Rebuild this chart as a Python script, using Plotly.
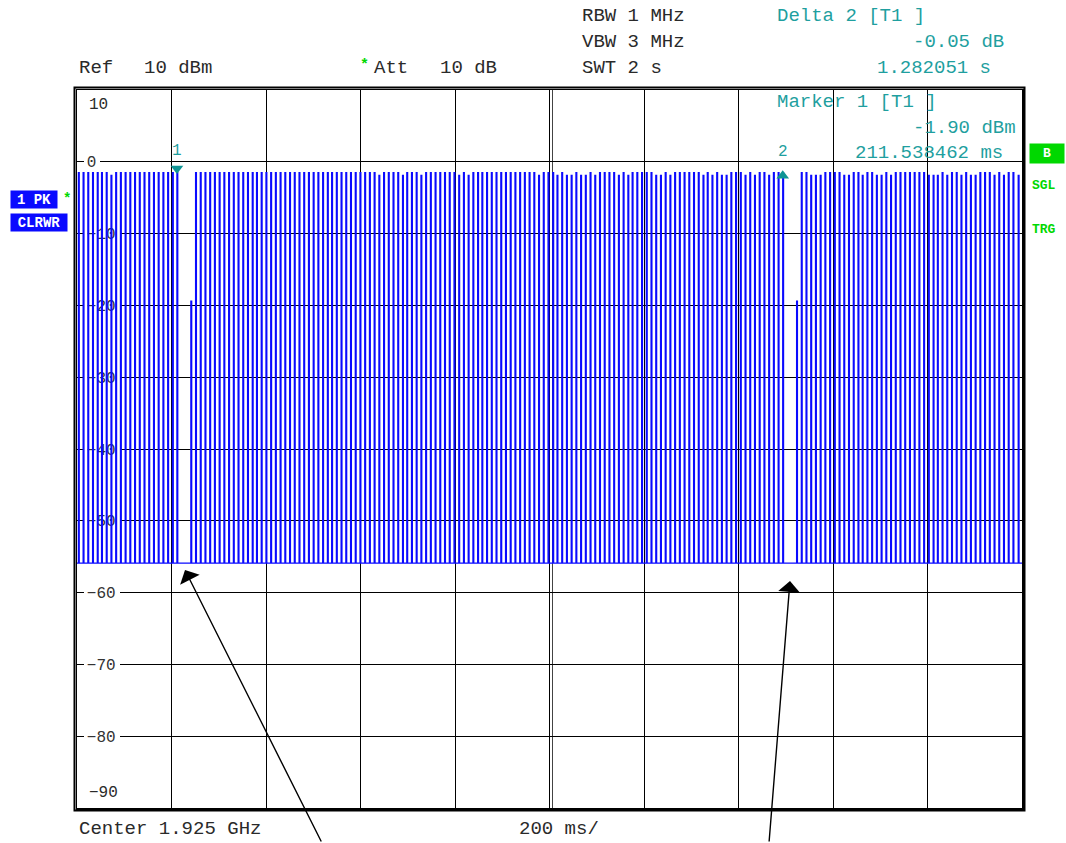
import plotly.graph_objects as go

# ---------------- data ----------------
pulse_times_ms = [
    3, 13, 23, 33, 43, 52, 62, 72, 82, 92, 102, 112, 122, 132, 142, 152, 162, 172, 182, 192, 202,
    211.5,
    251, 261, 271, 281, 291, 301, 311, 321, 331, 341, 351, 361, 371,
    380, 390, 400, 410, 420, 430, 440, 450, 460, 470, 480, 490, 500, 510, 520, 530,
    539, 549, 559, 569, 579, 589, 599, 609, 619, 629, 639, 649, 659, 669, 679, 689,
    698, 708, 718, 728, 738, 748, 758, 768, 778, 788, 798, 808, 818, 828, 838, 848,
    857, 867, 877, 887, 897, 907, 917, 927, 937, 947, 957, 967, 977, 987, 997, 1007,
    1016, 1026, 1036, 1046, 1056, 1066, 1076, 1086, 1096, 1106, 1116, 1126, 1136, 1146, 1156, 1166,
    1175, 1185, 1195, 1205, 1215, 1225, 1235, 1245, 1255, 1265, 1275, 1285, 1295, 1305, 1315, 1325,
    1334, 1344, 1354, 1364, 1374, 1384, 1394, 1404, 1414, 1424, 1434, 1444, 1454, 1464, 1474, 1484,
    1493.6,
    1533, 1543, 1553, 1563, 1573, 1583, 1593, 1603, 1613, 1623, 1633, 1643, 1653,
    1662, 1672, 1682, 1692, 1702, 1712, 1722, 1732, 1742, 1752, 1762, 1772, 1782, 1792, 1802, 1812,
    1821, 1831, 1841, 1851, 1861, 1871, 1881, 1891, 1901, 1911, 1921, 1931, 1941, 1951, 1961, 1971,
    1981, 1992,
]
low_pulse_times_ms = [
    72, 639, 689, 728, 808, 828, 977, 1016, 1036, 1046, 1066, 1076, 1096, 1146, 1166,
    1225, 1235, 1255, 1325, 1344, 1364, 1374, 1414, 1434, 1464, 1553, 1563, 1573, 1623,
    1633, 1662, 1692, 1702, 1722, 1802, 1812, 1821, 1841, 1871, 1891, 1901, 1941, 1961, 1992,
]
stub_times_ms = [241, 1523]
stub_level_dbm = -19.4
peak_high_dbm = -1.5
peak_low_dbm = -1.9
floor_dbm = -55.9
pulse_width_ms = 1.7

marker1_time_ms = 211.538462
marker1_level_dbm = -1.90
delta2_time_ms = 1282.051
delta2_level_db = -0.05

x_grid_ms = [0, 200, 400, 600, 800, 1000, 1200, 1400, 1600, 1800, 2000]
y_ticks_db = [0, -10, -20, -30, -40, -50, -60, -70, -80]
y_range_db = [-90, 10]
x_range_ms = [0, 2000]

# ---------------- styling ----------------
FONT = "Courier New, Liberation Mono, monospace"
BLUE = "#0a0aff"
TEAL = "#1f9f9f"
GREEN = "#00d800"
DARK = "#2a2a2a"

W_FIG, H_FIG = 1066, 843
L, T, R, B = 77, 90, 44, 35
PW, PH = W_FIG - L - R, H_FIG - T - B


def px(x):
    return (x - L) / PW


def py(y):
    return 1 - (y - T) / PH


# ---------------- trace ----------------
events = [(t, peak_low_dbm if t in low_pulse_times_ms else peak_high_dbm) for t in pulse_times_ms]
events += [(t, stub_level_dbm) for t in stub_times_ms]
events.sort()
xs, ys = [x_range_ms[0]], [floor_dbm]
for t, top in events:
    xs += [t, t, t + pulse_width_ms, t + pulse_width_ms]
    ys += [floor_dbm, top, top, floor_dbm]
xs.append(x_range_ms[1])
ys.append(floor_dbm)

fig = go.Figure()
fig.add_trace(go.Scatter(x=xs, y=ys, mode="lines",
                         line=dict(color=BLUE, width=1.3), hoverinfo="skip"))

marker2_time_ms = marker1_time_ms + delta2_time_ms
marker2_level_dbm = marker1_level_dbm + delta2_level_db
fig.add_trace(go.Scatter(x=[marker1_time_ms], y=[marker1_level_dbm], mode="markers",
                         marker=dict(symbol="triangle-up", angle=180, size=11, color="#0e9494",
                                     standoff=7, line=dict(width=0)),
                         hoverinfo="skip"))
fig.add_trace(go.Scatter(x=[marker2_time_ms], y=[marker2_level_dbm], mode="markers",
                         marker=dict(symbol="triangle-up", size=11, color="#0e9494",
                                     line=dict(width=0)),
                         hoverinfo="skip"))

annotations = []


def text(x, y, s, color=DARK, size=19, anchor="left", bold=False, bg=None, w=None, h=None):
    a = dict(x=px(x), y=py(y), xref="paper", yref="paper", text=("<b>%s</b>" % s) if bold else s,
             showarrow=False, xanchor=anchor, yanchor="middle",
             font=dict(family=FONT, size=size, color=color))
    if bg:
        a.update(bgcolor=bg, width=w, height=h, align="center")
    annotations.append(a)


# header texts
text(77, 68, "Ref")
text(142, 68, "10 dBm")
text(358, 65, "*", color=GREEN, size=15, bold=True)
text(372, 68, "Att")
text(438, 68, "10 dB")
text(580, 16, "RBW 1 MHz")
text(580, 42, "VBW 3 MHz")
text(580, 68, "SWT 2 s")

text(775, 16, "Delta 2 [T1 ]", color=TEAL)
text(1006, 42, "%.2f dB" % delta2_level_db, color=TEAL, anchor="right")
text(993, 68, "%.6f s" % (delta2_time_ms / 1000), color=TEAL, anchor="right")
text(775, 102, "Marker 1 [T1 ]", color=TEAL)
text(1018, 128, "%.2f dBm" % marker1_level_dbm, color=TEAL, anchor="right")
text(1005, 153, "%.6f ms" % marker1_time_ms, color=TEAL, anchor="right")

# bottom texts
text(77, 829, "Center 1.925 GHz")
text(517, 829, "200 ms/")

# left / right status boxes
text(10, 199, "1 PK", color="white", size=14, bold=True, bg=BLUE, w=44, h=15)
text(10, 223, "CLRWR", color="white", size=14, bold=True, bg=BLUE, w=54, h=15)
text(61, 199, "*", color=GREEN, size=14, bold=True)
text(1029, 153, "B", color="white", size=13, bold=True, bg=GREEN, w=32, h=17)
text(1030, 185, "SGL", color=GREEN, size=13, bold=True)
text(1030, 230, "TRG", color=GREEN, size=13, bold=True)

# top/bottom y labels
text(87, 105, str(y_range_db[1]), size=16)
text(87, 793, "\u2212" + str(abs(y_range_db[0])), size=16)

# marker labels
for mx, my, lab in [(marker1_time_ms, marker1_level_dbm, "1"), (marker2_time_ms, marker2_level_dbm, "2")]:
    annotations.append(dict(x=mx, y=my, xref="x", yref="y", text=lab, showarrow=False,
                            yshift=24, font=dict(family=FONT, size=16, color=TEAL)))

# pointing arrows
for hx, hy, tx, ty in [(185, 570, 322, 850), (790, 581, 769, 850)]:
    annotations.append(dict(x=px(hx), y=py(hy), xref="paper", yref="paper", text="",
                            showarrow=True, ax=tx - hx, ay=ty - hy, arrowhead=1,
                            arrowsize=2.6, arrowwidth=1.4, arrowcolor="black"))

shapes = []
# white gaps behind y tick labels
ms_per_px = (x_range_ms[1] - x_range_ms[0]) / PW
for v in y_ticks_db:
    n = len(str(v))
    shapes.append(dict(type="rect", xref="x", yref="y", layer="between",
                       x0=7 * ms_per_px, x1=(13 + n * 10) * ms_per_px,
                       y0=v - 0.9, y1=v + 0.9, fillcolor="white", line=dict(width=0)))
# doubled centre line
shapes.append(dict(type="line", xref="x", yref="paper", layer="between",
                   x0=1000 + 3 * ms_per_px, x1=1000 + 3 * ms_per_px, y0=0, y1=1,
                   line=dict(color="#444", width=1)))
# outer frame
ox, oy = 2.5 / PW, 2.5 / PH
shapes.append(dict(type="rect", xref="paper", yref="paper", x0=-ox, x1=1 + ox, y0=-oy, y1=1 + oy,
                   line=dict(color="black", width=2)))

fig.update_layout(
    width=W_FIG, height=H_FIG, autosize=False,
    margin=dict(l=L, r=R, t=T, b=B, pad=0),
    paper_bgcolor="white", plot_bgcolor="white",
    showlegend=False,
    annotations=annotations, shapes=shapes,
    xaxis=dict(range=x_range_ms, tickvals=x_grid_ms, showticklabels=False, ticks="",
               showgrid=True, gridcolor="black", gridwidth=1, zeroline=False,
               showline=True, mirror=True, linecolor="black", linewidth=1.5, fixedrange=True),
    yaxis=dict(range=y_range_db, tickvals=y_ticks_db, ticktext=[str(v).replace("-", "\u2212") for v in y_ticks_db],
               ticks="", ticklabelposition="inside", ticklabelstandoff=10,
               tickfont=dict(family=FONT, size=16, color="#333333"), layer="below traces",
               showgrid=True, gridcolor="black", gridwidth=1, zeroline=False,
               showline=True, mirror=True, linecolor="black", linewidth=1.5, fixedrange=True),
)

fig.write_html("out.html", config={"staticPlot": True},
               post_script="document.body.style.margin='0';document.body.style.overflow='hidden';")
